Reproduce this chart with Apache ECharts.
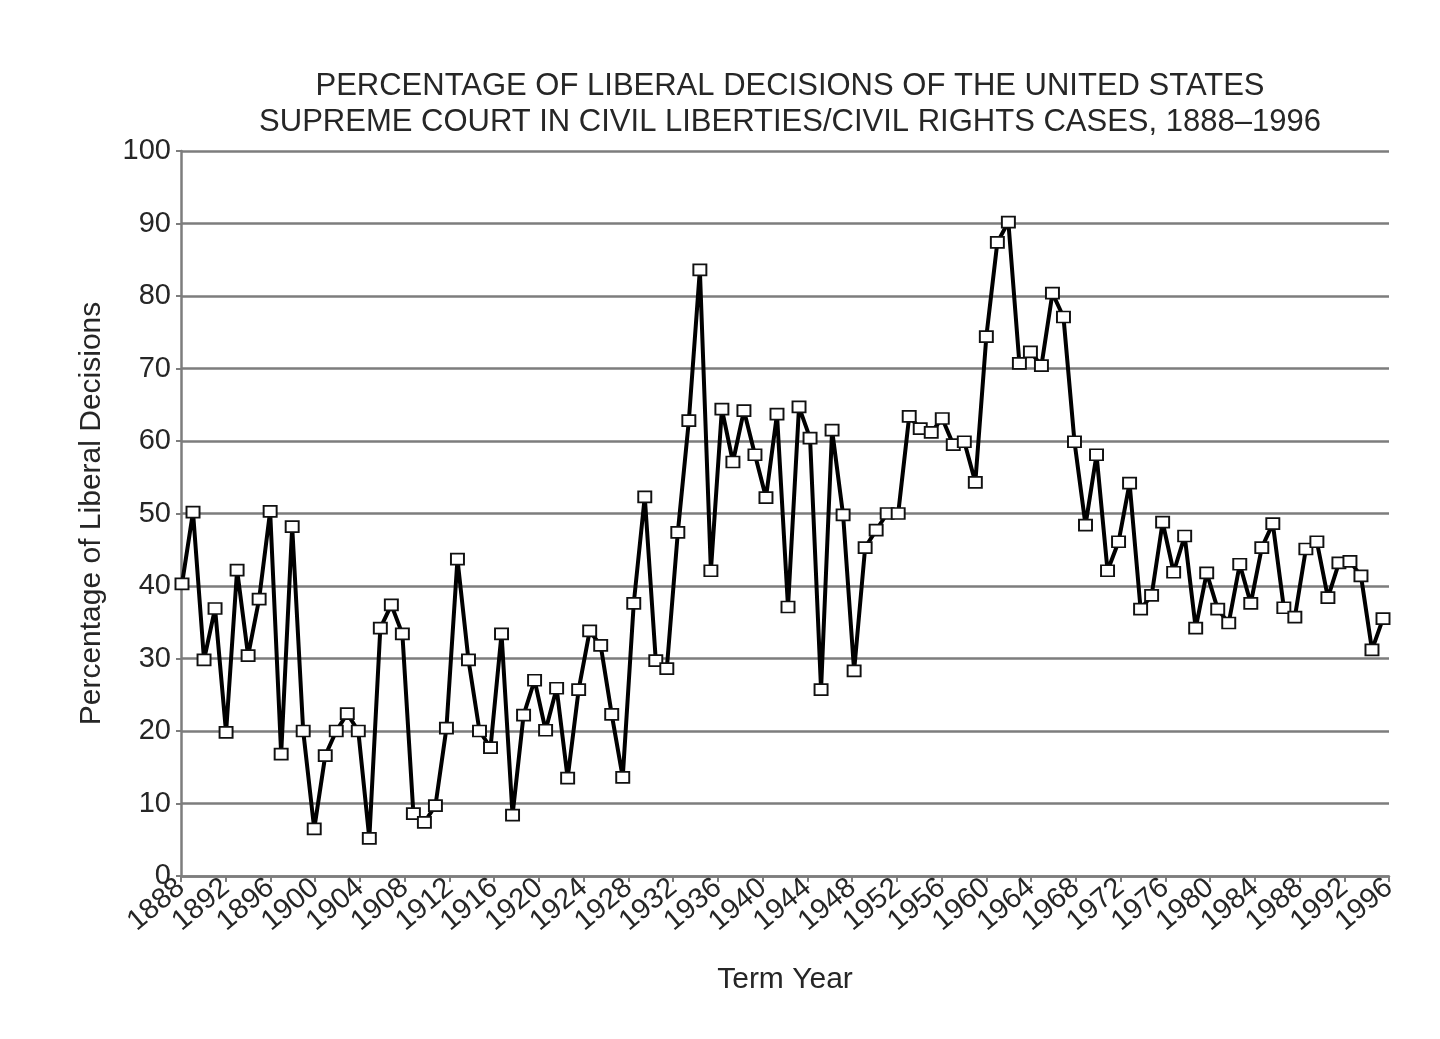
<!DOCTYPE html>
<html>
<head>
<meta charset="utf-8">
<script src="https://cdn.jsdelivr.net/npm/echarts@6/dist/echarts.min.js"></script>
<style>
  html, body { margin: 0; padding: 0; background: #ffffff; }
  #chart { width: 1440px; height: 1039px; }
</style>
</head>
<body>
<div id="chart"></div>
<script>
// ---- Data ----
var titleLines = [
  'PERCENTAGE OF LIBERAL DECISIONS OF THE UNITED STATES',
  'SUPREME COURT IN CIVIL LIBERTIES/CIVIL RIGHTS CASES, 1888\u20131996'
];
var xAxisTitle = 'Term Year';
var yAxisTitle = 'Percentage of Liberal Decisions';

// year tick labels on the horizontal axis
var yearTicks = [1888, 1892, 1896, 1900, 1904, 1908, 1912, 1916, 1920, 1924, 1928,
  1932, 1936, 1940, 1944, 1948, 1952, 1956, 1960, 1964, 1968, 1972, 1976, 1980,
  1984, 1988, 1992, 1996];
// percentage tick labels on the vertical axis
var pctTicks = [0, 10, 20, 30, 40, 50, 60, 70, 80, 90, 100];

// percentage of liberal decisions, one value per plotted term (left to right)
var liberalPct = [
  40.3, 50.2, 29.8, 36.9, 19.8, 42.2, 30.4, 38.2, 50.3, 16.8,
  48.2, 20.0, 6.5, 16.6, 20.0, 22.4, 20.0, 5.2, 34.2, 37.4,
  33.4, 8.6, 7.4, 9.7, 20.4, 43.7, 29.8, 20.0, 17.7, 33.4,
  8.4, 22.2, 27.0, 20.1, 25.9, 13.5, 25.7, 33.8, 31.8, 22.3,
  13.6, 37.6, 52.3, 29.7, 28.6, 47.4, 62.8, 83.6, 42.1, 64.4,
  57.1, 64.2, 58.1, 52.2, 63.7, 37.1, 64.7, 60.4, 25.7, 61.5,
  49.8, 28.3, 45.3, 47.7, 50.0, 50.0, 63.4, 61.7, 61.2, 63.1,
  59.5, 59.9, 54.3, 74.4, 87.4, 90.2, 70.7, 72.3, 70.4, 80.4,
  77.1, 59.9, 48.4, 58.1, 42.1, 46.1, 54.2, 36.8, 38.7, 48.8,
  41.9, 46.9, 34.2, 41.8, 36.8, 34.9, 43.0, 37.6, 45.3, 48.6,
  37.0, 35.7, 45.1, 46.1, 38.4, 43.2, 43.4, 41.4, 31.2, 35.5
];
// term index labels for the plotted points
var termLabels = liberalPct.map(function (v, i) { return 'Term ' + (i + 1); });

// ---- Chart ----
var FONT = '"Liberation Sans", Arial, Helvetica, sans-serif';
var TEXT = '#262626';
var GRID_COLOR = '#7d7d7d';

var chart = echarts.init(document.getElementById('chart'), null, { renderer: 'canvas' });

// two overlapping year axes, each labelling every other tick, so that the
// rotated labels never get dropped by the overlap check
function yearAxis(parity, withLine) {
  return {
    gridIndex: 0,
    type: 'value',
    position: 'bottom',
    min: yearTicks[0],
    max: yearTicks[yearTicks.length - 1],
    interval: yearTicks[1] - yearTicks[0],
    name: withLine ? xAxisTitle : '',
    nameLocation: 'middle',
    nameGap: 89,
    nameTextStyle: { fontFamily: FONT, fontSize: 30, color: TEXT },
    axisLine: { show: withLine, onZero: false, lineStyle: { color: GRID_COLOR, width: 2.5 } },
    axisTick: { show: withLine, length: 6, lineStyle: { color: GRID_COLOR, width: 2 } },
    splitLine: { show: false },
    axisLabel: {
      rotate: 40,
      margin: 8,
      showMinLabel: true,
      showMaxLabel: true,
      hideOverlap: false,
      fontFamily: FONT,
      fontSize: 29,
      color: TEXT,
      formatter: function (v) {
        var i = yearTicks.indexOf(v);
        return (i >= 0 && i % 2 === parity) ? String(v) : '';
      }
    }
  };
}

var option = {
  backgroundColor: '#ffffff',
  animation: false,
  title: {
    text: titleLines.join('\n'),
    left: 785,
    top: 63,
    textAlign: 'center',
    textStyle: {
      fontFamily: FONT,
      fontSize: 31,
      fontWeight: 'normal',
      color: TEXT,
      lineHeight: 36
    }
  },
  grid: [
    { left: 181, right: 51, top: 151, bottom: 163, containLabel: false },
    { left: 182, right: 57, top: 151, bottom: 163, containLabel: false }
  ],
  xAxis: [
    yearAxis(0, true),
    yearAxis(1, false),
    {
      gridIndex: 1,
      type: 'category',
      data: termLabels,
      boundaryGap: false,
      show: false
    }
  ],
  yAxis: [
    {
      gridIndex: 0,
      type: 'value',
      min: pctTicks[0],
      max: pctTicks[pctTicks.length - 1],
      interval: pctTicks[1] - pctTicks[0],
      name: yAxisTitle,
      nameLocation: 'middle',
      nameRotate: 90,
      nameGap: 74,
      nameTextStyle: { fontFamily: FONT, fontSize: 30, color: TEXT },
      axisLine: { show: true, lineStyle: { color: GRID_COLOR, width: 2.5 } },
      axisTick: { show: true, length: 5, lineStyle: { color: GRID_COLOR, width: 2 } },
      splitLine: { show: true, lineStyle: { color: GRID_COLOR, width: 2.5 } },
      axisLabel: { margin: 10, showMinLabel: true, showMaxLabel: true, fontFamily: FONT, fontSize: 29, color: TEXT }
    },
    {
      gridIndex: 1,
      type: 'value',
      min: pctTicks[0],
      max: pctTicks[pctTicks.length - 1],
      show: false,
      splitLine: { show: false }
    }
  ],
  series: [
    {
      type: 'line',
      xAxisIndex: 2,
      yAxisIndex: 1,
      data: liberalPct,
      symbol: 'rect',
      symbolSize: [13, 11],
      showAllSymbol: true,
      lineStyle: { color: '#000000', width: 4 },
      itemStyle: { color: '#ffffff', borderColor: '#111111', borderWidth: 1.8 },
      z: 5
    }
  ]
};

chart.setOption(option);
</script>
</body>
</html>
